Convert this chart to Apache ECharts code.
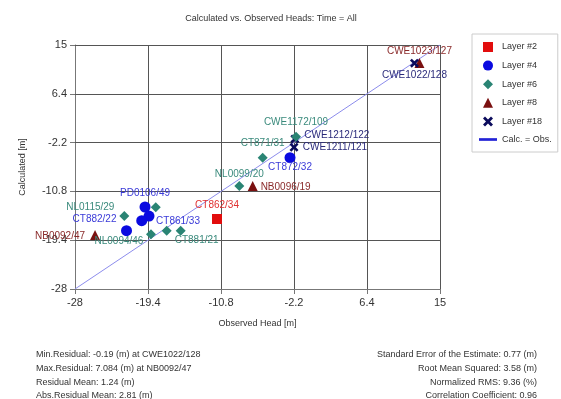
<!DOCTYPE html>
<html>
<head>
<meta charset="utf-8">
<script src="https://cdn.jsdelivr.net/npm/echarts@6/dist/echarts.min.js"></script>
<style>html,body{margin:0;padding:0;background:#fff}#c{width:561px;height:399px}</style>
</head>
<body>
<div id="c"></div>
<script>
// ---- data ----
const axisTicks = [-28, -19.4, -10.8, -2.2, 6.4, 15];
const layer2 = [[-11.27, -15.66, 'CT862/34']];
const layer4 = [
  [-19.75, -13.55, 'PD0106/49'],
  [-19.28, -15.14, 'CT861/33'],
  [-20.14, -15.96, ''],
  [-21.93, -17.73, 'CT882/22'],
  [-2.67, -4.86, 'CT872/32']
];
const layer6 = [
  [-18.49, -13.60, ''],
  [-22.19, -15.14, 'NL0115/29'],
  [-19.05, -18.36, 'NL0094/46'],
  [-17.20, -17.73, ''],
  [-15.55, -17.73, 'CT881/21'],
  [-8.64, -9.85, 'NL0099/20'],
  [-5.89, -4.86, 'CT871/31'],
  [-1.96, -1.16, 'CWE1172/109']
];
const layer8 = [
  [-25.64, -18.48, 'NB0092/47'],
  [-7.07, -9.85, 'NB0096/19'],
  [12.58, 11.83, 'CWE1023/127']
];
const layer18 = [
  [-2.10, -1.55, 'CWE1212/122'],
  [-2.20, -3.03, 'CWE1211/121'],
  [11.99, 11.80, 'CWE1022/128']
];
const oneToOne = [[-28, -28], [15, 15]];
const statsLeft = [
  'Min.Residual: -0.19 (m) at CWE1022/128',
  'Max.Residual: 7.084 (m) at NB0092/47',
  'Residual Mean: 1.24 (m)',
  'Abs.Residual Mean: 2.81 (m)'
];
const statsRight = [
  'Standard Error of the Estimate: 0.77 (m)',
  'Root Mean Squared: 3.58 (m)',
  'Normalized RMS: 9.36 (%)',
  'Correlation Coefficient: 0.96'
];

// ---- label placement (pixel offsets from marker centre) ----
const labelOffset = {
  'CT862/34': [0, -14],
  'PD0106/49': [0, -14],
  'CT861/33': [29, 5],
  'CT882/22': [-32, -11],
  'CT872/32': [0, 10],
  'NL0115/29': [-34, -9],
  'NL0094/46': [-32, 7],
  'CT881/21': [16, 10],
  'NL0099/20': [0, -12],
  'CT871/31': [0, -14],
  'CWE1172/109': [0, -14],
  'NB0092/47': [-35, 1],
  'NB0096/19': [33, 1],
  'CWE1023/127': [0, -12],
  'CWE1212/122': [42, -4],
  'CWE1211/121': [41, 0],
  'CWE1022/128': [0, 12]
};

const xPath = 'path://M0,2L2,0L5,3L8,0L10,2L7,5L10,8L8,10L5,7L2,10L0,8L3,5Z';
const FONT = 'Liberation Sans, Arial, sans-serif';

function items(arr, color) {
  return arr.map(d => {
    const o = labelOffset[d[2]];
    return {
      value: [d[0], d[1]],
      name: d[2],
      label: d[2] ? {
        show: true, position: 'inside', offset: o, formatter: d[2],
        color: color, fontSize: 10, fontFamily: FONT
      } : { show: false }
    };
  });
}

function scatter(name, arr, symbol, size, color, labelColor, z) {
  return {
    name: name, type: 'scatter', symbol: symbol, symbolSize: size,
    itemStyle: { color: color, opacity: 1 },
    data: items(arr, labelColor), z: z,
    emphasis: { disabled: true }
  };
}

const chart = echarts.init(document.getElementById('c'), null, { renderer: 'canvas' });

const axisCommon = {
  type: 'value', min: -28, max: 15,
  axisLine: { show: true, onZero: false, lineStyle: { color: '#777', width: 1 } },
  axisTick: { show: true, length: 5, customValues: axisTicks, lineStyle: { color: '#777' } },
  axisLabel: { customValues: axisTicks, color: '#333', fontSize: 11, fontFamily: FONT, margin: 8 },
  splitLine: { show: false },
  nameTextStyle: { color: '#333', fontSize: 9, fontFamily: FONT }
};

const gridLines = axisTicks.slice(1).map(v => ({ xAxis: v })).concat(axisTicks.slice(1).map(v => ({ yAxis: v })));

const gfx = [];
statsLeft.forEach((t, i) => gfx.push({
  type: 'text', left: 36, top: 350 + i * 13.8,
  style: { text: t, fill: '#333', font: '9px ' + FONT }
}));
statsRight.forEach((t, i) => gfx.push({
  type: 'text', right: 24, top: 350 + i * 13.8,
  style: { text: t, fill: '#333', font: '9px ' + FONT, textAlign: 'right' }
}));

chart.setOption({
  animation: false,
  backgroundColor: '#fff',
  title: {
    text: 'Calculated vs. Observed Heads: Time = All',
    left: 271, top: 14, textAlign: 'center', padding: 0,
    textStyle: { color: '#333', fontSize: 9, fontWeight: 'normal', fontFamily: FONT }
  },
  grid: { left: 75, right: 121, top: 45, bottom: 110, containLabel: false },
  xAxis: Object.assign({}, axisCommon, {
    name: 'Observed Head [m]', nameLocation: 'middle', nameGap: 30
  }),
  yAxis: Object.assign({}, axisCommon, {
    name: 'Calculated [m]', nameLocation: 'middle', nameGap: 48
  }),
  legend: {
    orient: 'vertical', left: 472, top: 34,
    padding: [8, 6, 8, 7], itemWidth: 18, itemHeight: 10, itemGap: 8.6,
    borderColor: '#ccc', borderWidth: 1, backgroundColor: '#fff',
    symbolKeepAspect: true,
    textStyle: { color: '#333', fontSize: 9, fontFamily: FONT },
    data: [
      { name: 'Layer #2', icon: 'path://M0,0H10V10H0Z' },
      { name: 'Layer #4', icon: 'circle' },
      { name: 'Layer #6', icon: 'path://M5,0L10,5L5,10L0,5Z' },
      { name: 'Layer #8', icon: 'path://M5,0L10,10L0,10Z' },
      { name: 'Layer #18', icon: xPath },
      { name: 'Calc. = Obs.', icon: 'path://M0,0H20V3H0Z', itemStyle: { color: '#2323d6' } }
    ]
  },
  graphic: gfx,
  series: [
    {
      name: 'Calc. = Obs.', type: 'line', data: oneToOne, showSymbol: false,
      lineStyle: { color: '#8c8cec', width: 1 }, itemStyle: { color: '#2323d6' },
      z: 2, emphasis: { disabled: true },
      markLine: {
        silent: true, symbol: 'none', animation: false,
        label: { show: false },
        lineStyle: { color: '#555', width: 1, type: 'solid' },
        emphasis: { disabled: true },
        data: gridLines, z: 1
      }
    },
    scatter('Layer #2', layer2, 'rect', [10, 10], '#e20d0d', '#e03030', 3),
    scatter('Layer #4', layer4, 'circle', 11, '#0a0ae0', '#3a3ad8', 3),
    scatter('Layer #6', layer6, 'diamond', [10, 10], '#2a8474', '#3a8a7c', 4),
    scatter('Layer #8', layer8, 'triangle', [10, 10], '#7a1010', '#8a2a2a', 3),
    scatter('Layer #18', layer18, xPath, [9, 9], '#0b0b5c', '#2a2a7a', 3)
  ]
});
</script>
</body>
</html>
